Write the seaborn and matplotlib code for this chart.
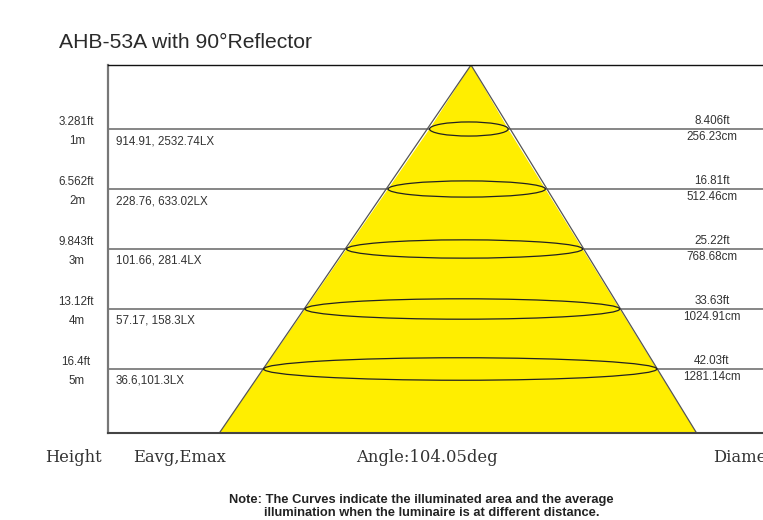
import numpy as np
import pandas as pd
import matplotlib
matplotlib.use("Agg")
import matplotlib.pyplot as plt
import seaborn as sns
from matplotlib.patches import Ellipse
from matplotlib.transforms import blended_transform_factory

# 数据
heights_m = [1, 2, 3, 4, 5]
height_m_labels = ['1m', '2m', '3m', '4m', '5m']
height_ft_labels = ['3.281ft', '6.562ft', '9.843ft', '13.12ft', '16.4ft']
lux_labels = ['914.91, 2532.74LX', '228.76, 633.02LX', '101.66, 281.4LX',
              '57.17, 158.3LX', '36.6,101.3LX']
diam_cm = [256.23, 512.46, 768.68, 1024.91, 1281.14]
diam_ft_labels = ['8.406ft', '16.81ft', '25.22ft', '33.63ft', '42.03ft']
angle_deg = 104.05

sns.set_theme(style='white')
plt.rcParams['font.family'] = ['Liberation Sans', 'DejaVu Sans']

W, H = 763, 520
fig = plt.figure(figsize=(W / 100, H / 100), dpi=100)
ax = fig.add_axes([108 / W, 1 - 433 / H, (W - 108) / W, (433 - 65) / H])

px_per_m_x = 30.7
xlim = ((108 - 471) / px_per_m_x, (W - 471) / px_per_m_x)
ylim = (6.0667, -0.0667)
ax.set_xlim(*xlim)
ax.set_ylim(*ylim)

# 光锥几何
h = np.array(heights_m, dtype=float)
half_w = np.array(diam_cm) / 200.0
tilt = -0.07
center = tilt * h
ybot = ylim[0]
slope = half_w[-1] / h[-1]
cb = tilt * ybot
xs = [0] + list(center - half_w) + [cb - slope * ybot, cb + slope * ybot] + list((center + half_w)[::-1])
ys = [ylim[1]] + list(h) + [ybot, ybot] + list(h[::-1])

ax.hlines(heights_m, xlim[0], xlim[1], colors='#666666', lw=1.1, zorder=0.5)
ax.fill(xs, ys, color='#FFEE00', zorder=1, lw=0)
cone = pd.DataFrame({'x': [cb - slope * ybot, 0, cb + slope * ybot],
                     'y': [ybot, ylim[1], ybot]})
sns.lineplot(data=cone, x='x', y='y', sort=False, estimator=None,
             color='#555555', lw=0.9, ax=ax, zorder=1.5)

for hi, ci, wi in zip(h, center, half_w):
    e = Ellipse((ci, hi), width=2 * wi, height=0.2 + 0.035 * hi,
                facecolor='none', edgecolor='#222222', lw=0.9, zorder=2)
    ax.add_patch(e)

ax.set_xticks([])
ax.set_yticks([])
ax.set_xlabel('')
ax.set_ylabel('')
ax.spines['right'].set_visible(False)
ax.spines['top'].set_color('#111111')
ax.spines['top'].set_linewidth(1.0)
ax.spines['left'].set_color('#777777')
ax.spines['left'].set_linewidth(1.6)
ax.spines['bottom'].set_color('#444444')
ax.spines['bottom'].set_linewidth(1.5)

# 标签
fs = 8.4
tr = blended_transform_factory(fig.transFigure, ax.transData)
for i, hi in enumerate(heights_m):
    ax.text(76 / W, hi - 0.12, height_ft_labels[i], transform=tr, ha='center', va='center',
            fontsize=fs, color='#333333', clip_on=False)
    ax.text(77 / W, hi + 0.2, height_m_labels[i], transform=tr, ha='center', va='center',
            fontsize=fs, color='#333333', clip_on=False)
    ax.text(116 / W, hi + 0.2, lux_labels[i], transform=tr, ha='left', va='center',
            fontsize=fs, color='#333333', clip_on=False)
    ax.text(712 / W, hi - 0.14, diam_ft_labels[i], transform=tr, ha='center', va='center',
            fontsize=fs, color='#333333', clip_on=False)
    ax.text(712 / W, hi + 0.13, '%.2fcm' % diam_cm[i], transform=tr, ha='center', va='center',
            fontsize=fs, color='#333333', clip_on=False)

fig.text(59 / W, 1 - 43 / H, 'AHB-53A with 90°Reflector', ha='left', va='center',
         fontsize=15.2, color='#2a2a2a')

serif = ['DejaVu Serif']
fig.text(45 / W, 1 - 457 / H, 'Height', ha='left', va='center', fontsize=11.8,
         family=serif, color='#333333')
fig.text(133 / W, 1 - 457 / H, 'Eavg,Emax', ha='left', va='center', fontsize=11.8,
         family=serif, color='#333333')
fig.text(356 / W, 1 - 457 / H, 'Angle:%.2fdeg' % angle_deg, ha='left', va='center',
         fontsize=11.8, family=serif, color='#333333')
fig.text(713 / W, 1 - 457 / H, 'Diameter', ha='left', va='center', fontsize=11.8,
         family=serif, color='#333333')

fig.text(421 / W, 1 - 500 / H, 'Note: The Curves indicate the illuminated area and the average',
         ha='center', va='center', fontsize=9.3, fontweight='bold', color='#222222')
fig.text(432 / W, 1 - 513 / H, 'illumination when the luminaire is at different distance.',
         ha='center', va='center', fontsize=9.3, fontweight='bold', color='#222222')

fig.savefig('out.png', dpi=100)
